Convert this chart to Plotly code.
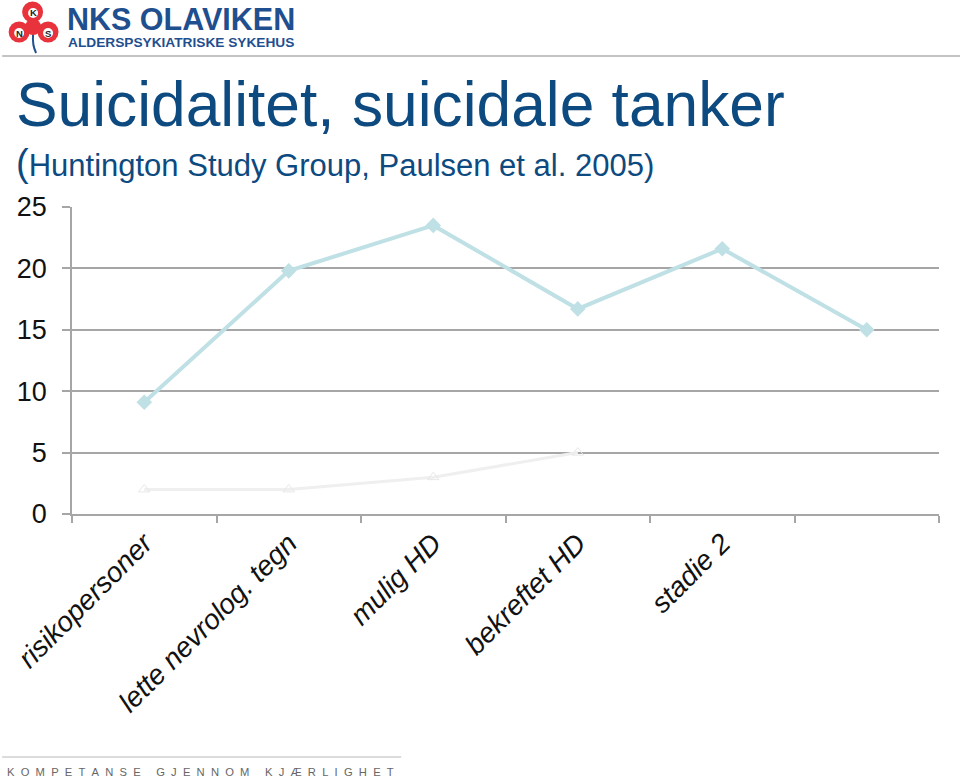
import plotly.graph_objects as go

categories = ["risikopersoner", "lette nevrolog. tegn", "mulig HD",
              "bekreftet HD", "stadie 2", " "]
suicidal_thoughts = [9.1, 19.8, 23.5, 16.7, 21.6, 15.0]
second_series = [2.0, 2.0, 3.0, 5.0, None, None]
y_ticks = [0, 5, 10, 15, 20, 25]

# plot area in pixels
L, R, T, B = 70, 939, 207, 514


def px(x):
    return (x - L) / (R - L)


def py(y):
    return (B - y) / (B - T)


fig = go.Figure()
fig.add_trace(go.Scatter(
    x=categories, y=second_series, mode="lines+markers",
    line=dict(color="#efefef", width=3),
    marker=dict(symbol="triangle-up-open", size=10, color="#e8e8e8"),
    showlegend=False,
))
fig.add_trace(go.Scatter(
    x=categories, y=suicidal_thoughts, mode="lines+markers",
    line=dict(color="#bfe0e4", width=4),
    marker=dict(symbol="diamond", size=12, color="#bfe0e4"),
    showlegend=False,
))

fig.update_layout(
    width=960, height=780,
    margin=dict(l=L, r=960 - R, t=T, b=780 - B),
    paper_bgcolor="white", plot_bgcolor="white",
    font=dict(family="Liberation Sans, Arial", color="#111111"),
    xaxis=dict(
        type="category", tickson="boundaries", ticks="outside",
        ticklen=7, tickcolor="#a6a6a6", tickwidth=1.5,
        showline=True, linecolor="#a6a6a6", linewidth=1.5,
        showgrid=False, tickangle=-45,
        tickfont=dict(size=28, family="Liberation Sans, Arial",
                      style="italic", color="#111111"),
        range=[-0.5, 5.5],
    ),
    yaxis=dict(
        range=[0, 25], tickvals=y_ticks, ticks="outside", ticklen=8,
        tickcolor="#a6a6a6", tickwidth=1.5,
        showline=True, linecolor="#a6a6a6", linewidth=1.5,
        showgrid=True, gridcolor="#a6a6a6", gridwidth=1.5,
        zeroline=False, tickfont=dict(size=27, color="#111111"),
        ticklabelstandoff=10,
    ),
)

# header / footer lines
fig.add_shape(type="line", xref="paper", yref="paper",
              x0=px(0), x1=px(960), y0=py(56), y1=py(56),
              line=dict(color="#b0b0b0", width=1.5))
fig.add_shape(type="line", xref="paper", yref="paper",
              x0=px(0), x1=px(400), y0=py(757), y1=py(757),
              line=dict(color="#b8b8b8", width=1))

# shamrock logo
fig.add_shape(type="path", xref="paper", yref="paper",
              path=f"M {px(31)},{py(34)} Q {px(30)},{py(45)} {px(34)},{py(53)}",
              line=dict(color="#1f4f8f", width=2))
for cx, cy, r in [(30.5, 12, 10.5), (17, 32, 10.5), (46, 32, 10.5),
                  (31, 27, 8)]:
    fig.add_shape(type="circle", xref="paper", yref="paper",
                  x0=px(cx - r), x1=px(cx + r), y0=py(cy - r), y1=py(cy + r),
                  fillcolor="#e8323c", line=dict(width=0))
for ch, cx, cy in [("K", 31, 13), ("N", 17, 33), ("S", 46, 33)]:
    fig.add_shape(type="circle", xref="paper", yref="paper",
                  x0=px(cx - 5), x1=px(cx + 5), y0=py(cy - 5),
                  y1=py(cy + 5), fillcolor="white", line=dict(width=0))
    fig.add_annotation(text=f"<b>{ch}</b>", x=px(cx), y=py(cy), xref="paper",
                       yref="paper", xanchor="center", yanchor="middle",
                       showarrow=False,
                       font=dict(size=9.5, color="#222222"))

fig.add_annotation(text="<b>NKS OLAVIKEN</b>", x=px(63), y=py(19),
                   xref="paper", yref="paper", xanchor="left",
                   yanchor="middle", showarrow=False,
                   font=dict(size=30.5, color="#1f4f8f",
                             family="Liberation Sans, Arial"))
fig.add_annotation(text="<b>ALDERSPSYKIATRISKE SYKEHUS</b>", x=px(64),
                   y=py(42), xref="paper", yref="paper", xanchor="left",
                   yanchor="middle", showarrow=False,
                   font=dict(size=13.7, color="#1f4f8f",
                             family="Liberation Sans, Arial"))

# titles
fig.add_annotation(text="Suicidalitet, suicidale tanker", x=px(12),
                   y=py(104), xref="paper", yref="paper", xanchor="left",
                   yanchor="middle", showarrow=False,
                   font=dict(size=62.3, color="#0d4a80",
                             family="Liberation Sans, Arial"))
fig.add_annotation(
    text="<span style='font-size:38px'>(</span>Huntington Study Group, "
         "Paulsen et al. 2005)",
    x=px(12), y=py(163), xref="paper", yref="paper", xanchor="left",
    yanchor="middle", showarrow=False,
    font=dict(size=31, color="#0d4a80", family="Liberation Sans, Arial"))

# footer
words = ["KOMPETANSE", "GJENNOM", "KJÆRLIGHET"]
footer = ("\u00a0" * 5).join("\u00a0\u00a0".join(w) for w in words)
fig.add_annotation(text=footer,
                   x=px(3), y=py(772), xref="paper", yref="paper",
                   xanchor="left", yanchor="middle", showarrow=False,
                   font=dict(size=11.2, color="#666666",
                             family="Liberation Sans, Arial"))

fig.write_html("out.html", config={"displayModeBar": False},
               post_script="document.body.style.margin='0';")
